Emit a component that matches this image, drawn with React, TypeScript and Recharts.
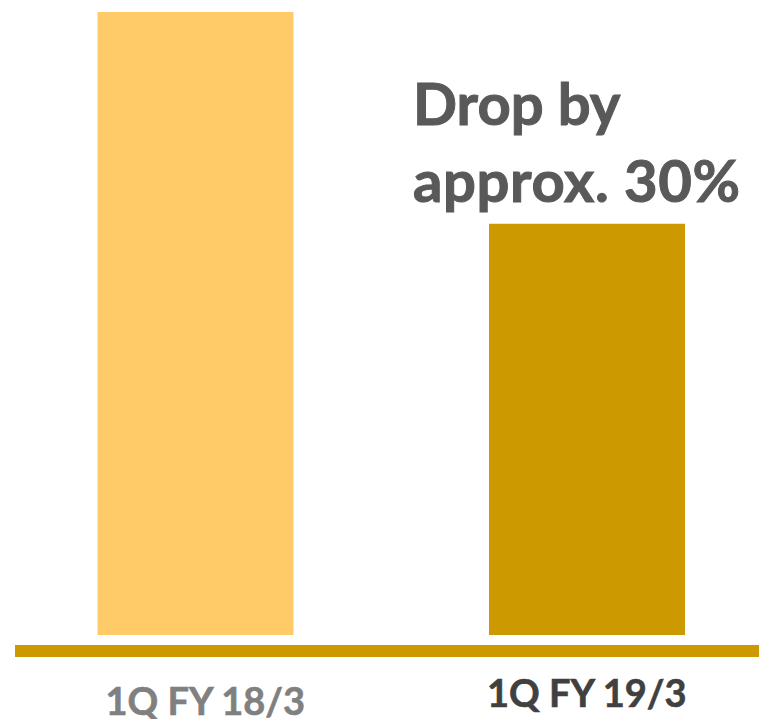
import { BarChart, Bar, XAxis, YAxis, Cell } from 'recharts';

const periods = ['1Q FY 18/3', '1Q FY 19/3'];
const values = [100, 66];
const barColors = ['#FFCB69', '#CC9900'];
const noteLines = ['Drop by', 'approx. 30%'];

const tickStyles = [
    { fill: '#808080', dx: 10, dy: 64 },
    { fill: '#404040', dx: 0, dy: 56 },
];

const data = periods.map((p, i) => ({ period: p, value: values[i] }));

const PeriodTick = (props: any) => {
    const { x, y, payload, index } = props;
    const s = tickStyles[index] ?? tickStyles[0];
    return (
        <text x={x + s.dx} y={y + s.dy} textAnchor="middle" fill={s.fill} stroke={s.fill} strokeWidth={0.6}
            fontFamily="Lato, 'Open Sans', sans-serif" fontWeight={700} fontSize={38}>
            {payload.value}
        </text>
    );
};

export default function App() {
    return (
        <div style={{ position: 'absolute', left: 0, top: 0, width: 759, height: 719, overflow: 'hidden', background: '#fff' }}>
            <BarChart width={759} height={719} data={data}
                margin={{ top: 12, right: -23.5, bottom: 0, left: -0.5 }}>
                <XAxis dataKey="period" height={68} axisLine={false} tickLine={false}
                    tickSize={0} tickMargin={0} interval={0} tick={<PeriodTick />} />
                <YAxis hide domain={[-2.57, 100]} allowDataOverflow />
                <Bar dataKey="value" barSize={196} isAnimationActive={false}>
                    {data.map((d, i) => <Cell key={d.period} fill={barColors[i]} />)}
                </Bar>
                <rect x={15} y={645} width={760} height={12} fill="#CC9900" />
                <text fontFamily="Lato, 'Open Sans', sans-serif" fontWeight={700} fontSize={58}
                    fill="#595959" stroke="#595959" strokeWidth={1}>
                    <tspan x={413} y={125}>{noteLines[0]}</tspan>
                    <tspan x={413} y={202} letterSpacing={0.6}>{noteLines[1]}</tspan>
                </text>
            </BarChart>
        </div>
    );
}
